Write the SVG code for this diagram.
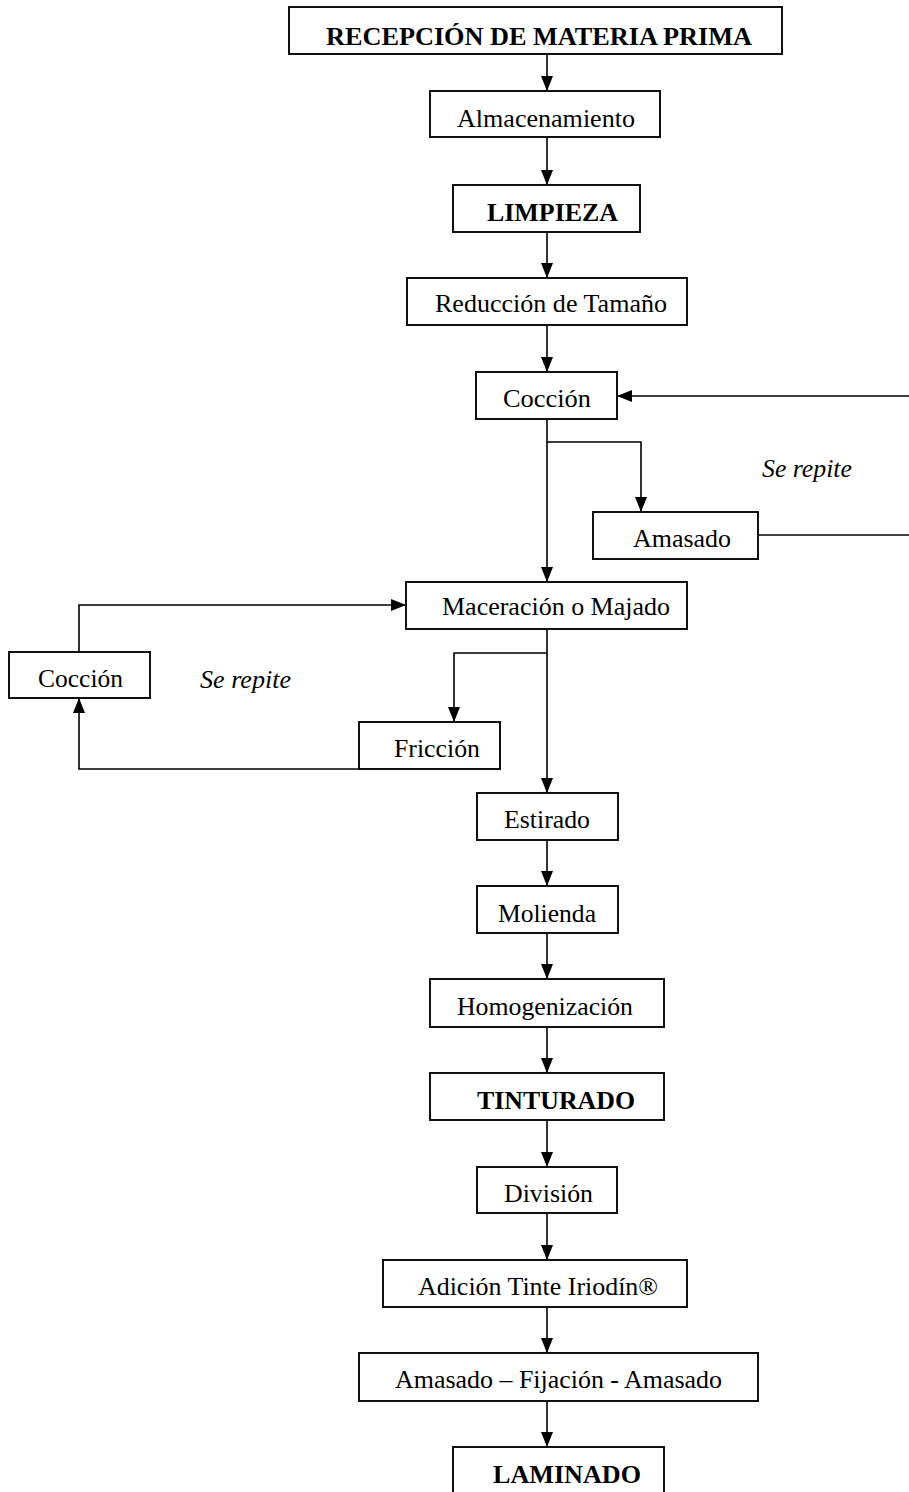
<svg xmlns="http://www.w3.org/2000/svg" width="909" height="1492" viewBox="0 0 909 1492">
<style>
.box{fill:#fff;stroke:#111;stroke-width:2}
.t{font-family:"Liberation Serif","Times New Roman",serif;font-size:26px;fill:#000}
.b{font-weight:bold;font-size:26px}
.i{font-style:italic}
.c{fill:none;stroke:#000;stroke-width:1.6}
</style>
<defs>
<marker id="ah" viewBox="0 0 15 12" refX="15" refY="6" markerWidth="15" markerHeight="12" markerUnits="userSpaceOnUse" orient="auto">
<path d="M0,0 L15,6 L0,12 z" fill="#000"/>
</marker>
</defs>
<rect width="909" height="1492" fill="#fff"/>
<g id="connectors">
<line class="c" x1="547" y1="54" x2="547" y2="91" marker-end="url(#ah)"/>
<line class="c" x1="547" y1="137" x2="547" y2="185" marker-end="url(#ah)"/>
<line class="c" x1="547" y1="232" x2="547" y2="278" marker-end="url(#ah)"/>
<line class="c" x1="547" y1="325" x2="547" y2="372" marker-end="url(#ah)"/>
<line class="c" x1="547" y1="419" x2="547" y2="582" marker-end="url(#ah)"/>
<polyline class="c" points="547,442 641,442 641,512" marker-end="url(#ah)"/>
<line class="c" x1="758" y1="535" x2="909" y2="535"/>
<line class="c" x1="909" y1="396" x2="617" y2="396" marker-end="url(#ah)"/>
<line class="c" x1="547" y1="629" x2="547" y2="793" marker-end="url(#ah)"/>
<polyline class="c" points="547,653 454,653 454,722" marker-end="url(#ah)"/>
<polyline class="c" points="359,769 79,769 79,698" marker-end="url(#ah)"/>
<polyline class="c" points="79,652 79,605 406,605" marker-end="url(#ah)"/>
<line class="c" x1="547" y1="840" x2="547" y2="886" marker-end="url(#ah)"/>
<line class="c" x1="547" y1="933" x2="547" y2="979" marker-end="url(#ah)"/>
<line class="c" x1="547" y1="1027" x2="547" y2="1073" marker-end="url(#ah)"/>
<line class="c" x1="547" y1="1120" x2="547" y2="1167" marker-end="url(#ah)"/>
<line class="c" x1="547" y1="1213" x2="547" y2="1260" marker-end="url(#ah)"/>
<line class="c" x1="547" y1="1307" x2="547" y2="1353" marker-end="url(#ah)"/>
<line class="c" x1="547" y1="1401" x2="547" y2="1447" marker-end="url(#ah)"/>
</g>
<g id="n-recepcion"><rect class="box" x="289" y="7" width="493" height="47"/><text class="t b" x="326" y="45" textLength="426" lengthAdjust="spacingAndGlyphs">RECEPCIÓN DE MATERIA PRIMA</text></g>
<g id="n-almacenamiento"><rect class="box" x="430" y="91" width="230" height="46"/><text class="t" x="457" y="127" textLength="178" lengthAdjust="spacingAndGlyphs">Almacenamiento</text></g>
<g id="n-limpieza"><rect class="box" x="453" y="185" width="187" height="47"/><text class="t b" x="487" y="221" textLength="131" lengthAdjust="spacingAndGlyphs">LIMPIEZA</text></g>
<g id="n-reduccion"><rect class="box" x="407" y="278" width="280" height="47"/><text class="t" x="435" y="312" textLength="232" lengthAdjust="spacingAndGlyphs">Reducción de Tamaño</text></g>
<g id="n-coccion1"><rect class="box" x="476" y="372" width="141" height="47"/><text class="t" x="503" y="407" textLength="88" lengthAdjust="spacingAndGlyphs">Cocción</text></g>
<g id="l-serepite1"><text class="t i" x="762" y="477" textLength="90" lengthAdjust="spacingAndGlyphs">Se repite</text></g>
<g id="n-amasado"><rect class="box" x="593" y="512" width="165" height="47"/><text class="t" x="633" y="547" textLength="98" lengthAdjust="spacingAndGlyphs">Amasado</text></g>
<g id="n-maceracion"><rect class="box" x="406" y="582" width="281" height="47"/><text class="t" x="442" y="615" textLength="228" lengthAdjust="spacingAndGlyphs">Maceración o Majado</text></g>
<g id="n-coccion2"><rect class="box" x="9" y="652" width="141" height="46"/><text class="t" x="38" y="687" textLength="85" lengthAdjust="spacingAndGlyphs">Cocción</text></g>
<g id="l-serepite2"><text class="t i" x="200" y="688" textLength="91" lengthAdjust="spacingAndGlyphs">Se repite</text></g>
<g id="n-friccion"><rect class="box" x="359" y="722" width="141" height="47"/><text class="t" x="394" y="757" textLength="86" lengthAdjust="spacingAndGlyphs">Fricción</text></g>
<g id="n-estirado"><rect class="box" x="477" y="793" width="141" height="47"/><text class="t" x="504" y="828" textLength="86" lengthAdjust="spacingAndGlyphs">Estirado</text></g>
<g id="n-molienda"><rect class="box" x="477" y="886" width="141" height="47"/><text class="t" x="498" y="922" textLength="98" lengthAdjust="spacingAndGlyphs">Molienda</text></g>
<g id="n-homogenizacion"><rect class="box" x="430" y="979" width="234" height="48"/><text class="t" x="457" y="1015" textLength="176" lengthAdjust="spacingAndGlyphs">Homogenización</text></g>
<g id="n-tinturado"><rect class="box" x="430" y="1073" width="234" height="47"/><text class="t b" x="477" y="1109" textLength="158" lengthAdjust="spacingAndGlyphs">TINTURADO</text></g>
<g id="n-division"><rect class="box" x="477" y="1167" width="140" height="46"/><text class="t" x="504" y="1202" textLength="89" lengthAdjust="spacingAndGlyphs">División</text></g>
<g id="n-adicion"><rect class="box" x="383" y="1260" width="304" height="47"/><text class="t" x="418" y="1295" textLength="240" lengthAdjust="spacingAndGlyphs">Adición Tinte Iriodín®</text></g>
<g id="n-amasado-fijacion"><rect class="box" x="359" y="1353" width="399" height="48"/><text class="t" x="395" y="1388" textLength="327" lengthAdjust="spacingAndGlyphs">Amasado – Fijación - Amasado</text></g>
<g id="n-laminado"><rect class="box" x="453" y="1447" width="211" height="60"/><text class="t b" x="493" y="1483" textLength="148" lengthAdjust="spacingAndGlyphs">LAMINADO</text></g>
</svg>
